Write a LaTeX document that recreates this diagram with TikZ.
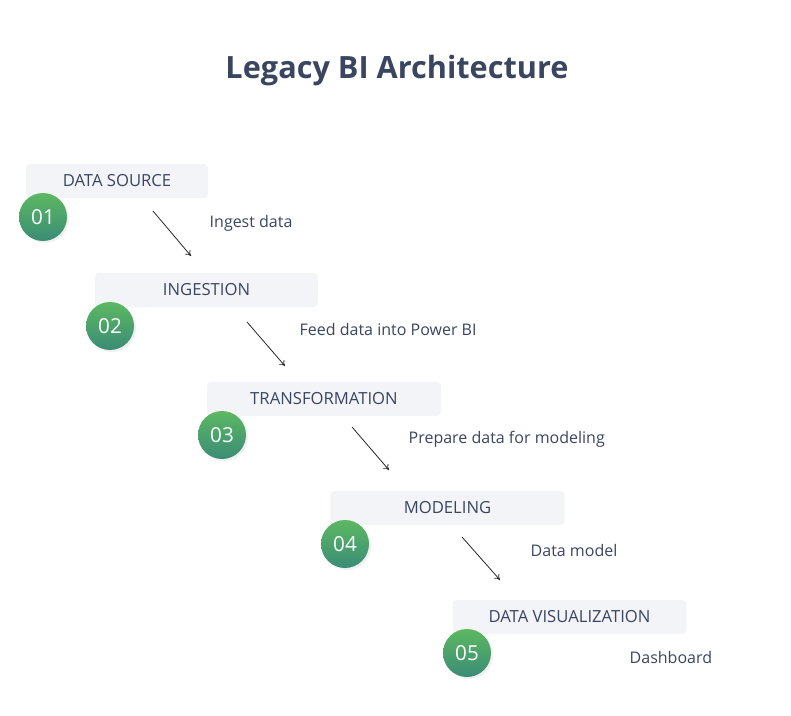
\documentclass[tikz,border=0pt]{standalone}
\usepackage{fontspec}
\setmainfont{Open Sans}
\usetikzlibrary{shadows,arrows.meta}
\definecolor{ink}{HTML}{3A4560}
\definecolor{boxgray}{HTML}{F3F4F8}
\definecolor{greentop}{HTML}{5DB862}
\definecolor{greenbot}{HTML}{3A8C76}
\tikzset{
  stagebox/.style={fill=boxgray, rounded corners=3pt, minimum width=175.5pt, minimum height=25.5pt, text=ink, font=\fontsize{12.5}{13}\selectfont},
  stepnum/.style={circle, minimum size=36pt, inner sep=0pt, top color=greentop, bottom color=greenbot, text=white, font=\fontsize{15.5}{16}\selectfont, drop shadow={opacity=0.12, shadow xshift=1.5pt, shadow yshift=-1.5pt}},
  flowlabel/.style={anchor=west, text=ink, font=\fontsize{12}{13}\selectfont},
  flow/.style={-{To[length=4pt,width=5pt]}, black!85, line width=0.6pt}
}
\begin{document}
\begin{tikzpicture}[x=0.75pt,y=-0.75pt]
\useasboundingbox (0,0) rectangle (791,716);

\node[text=ink, font=\fontsize{23}{25}\selectfont\bfseries] (title) at (397,71) {Legacy BI Architecture};

\node[stagebox, minimum width=136.5pt] (src) at (117,181) {DATA SOURCE};
\node[stagebox, minimum width=167pt] (ingest) at (206.5,290) {INGESTION};
\node[stagebox] (transform) at (324,399) {TRANSFORMATION};
\node[stagebox] (model) at (447.5,508) {MODELING};
\node[stagebox] (viz) at (569.5,617) {DATA VISUALIZATION};

\node[stepnum] (n1) at (43,217) {01};
\node[stepnum] (n2) at (110,326) {02};
\node[stepnum] (n3) at (222,435) {03};
\node[stepnum] (n4) at (345,544) {04};
\node[stepnum] (n5) at (467,653) {05};

\coordinate (a1) at (153,211); \coordinate (b1) at (191,256);
\coordinate (a2) at (247,322); \coordinate (b2) at (285,366);
\coordinate (a3) at (352,427); \coordinate (b3) at (389,470);
\coordinate (a4) at (462,537); \coordinate (b4) at (500,580);
\draw[flow] (a1) -- (b1);
\draw[flow] (a2) -- (b2);
\draw[flow] (a3) -- (b3);
\draw[flow] (a4) -- (b4);

\node[flowlabel] (l1) at (205,223) {Ingest data};
\node[flowlabel] (l2) at (295,329) {Feed data into Power BI};
\node[flowlabel] (l3) at (404,439) {Prepare data for modeling};
\node[flowlabel] (l4) at (526,550) {Data model};
\node[flowlabel] (l5) at (625,657) {Dashboard};
\end{tikzpicture}
\end{document}
